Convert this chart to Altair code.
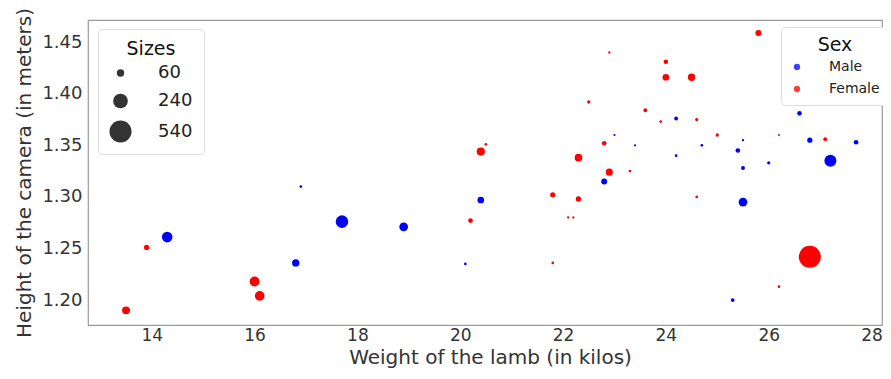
import altair as alt
import pandas as pd

weight = [13.5, 13.9, 14.3, 16.0, 16.1, 16.8, 16.9, 17.7, 18.9, 20.1,
          20.2, 20.4, 20.4, 20.5, 21.8, 21.8, 22.1, 22.2, 22.3, 22.3,
          22.5, 22.8, 22.8, 22.9, 22.9, 23.0, 23.3, 23.4, 23.6, 23.9,
          24.0, 24.0, 24.2, 24.2, 24.5, 24.6, 24.6, 24.7, 25.0, 25.3,
          25.4, 25.5, 25.5, 25.5, 25.8, 26.0, 26.2, 26.2, 26.6, 26.8,
          26.8, 27.1, 27.2, 27.7]
height = [1.190, 1.251, 1.261, 1.218, 1.204, 1.236, 1.310, 1.276, 1.271, 1.235,
          1.277, 1.297, 1.344, 1.351, 1.302, 1.236, 1.280, 1.280, 1.338, 1.298,
          1.392, 1.352, 1.315, 1.324, 1.440, 1.360, 1.325, 1.350, 1.384, 1.373,
          1.431, 1.416, 1.376, 1.340, 1.416, 1.375, 1.300, 1.350, 1.360, 1.200,
          1.345, 1.355, 1.328, 1.295, 1.459, 1.333, 1.360, 1.213, 1.381, 1.355,
          1.242, 1.356, 1.335, 1.353]
sex = ["Female", "Female", "Male", "Female", "Female", "Male", "Male", "Male", "Male", "Male",
       "Female", "Male", "Female", "Female", "Female", "Female", "Female", "Female", "Female", "Female",
       "Female", "Female", "Male", "Female", "Female", "Male", "Female", "Male", "Female", "Female",
       "Female", "Female", "Male", "Male", "Female", "Female", "Female", "Male", "Female", "Male",
       "Male", "Male", "Male", "Male", "Female", "Male", "Female", "Female", "Male", "Male",
       "Female", "Female", "Male", "Male"]
size = [70, 30, 125, 110, 105, 60, 8, 175, 85, 8,
        25, 50, 75, 8, 30, 8, 6, 6, 65, 32,
        12, 24, 40, 55, 6, 5, 8, 5, 16, 8,
        24, 50, 16, 8, 60, 12, 8, 8, 12, 16,
        24, 6, 18, 85, 40, 12, 5, 8, 24, 30,
        540, 16, 160, 24]

sex_levels = ["Male", "Female"]
sex_colors = ["#0000ff", "#ff0000"]
size_legend_values = [60, 240, 540]
x_ticks = [14, 16, 18, 20, 22, 24, 26, 28]
y_ticks = [1.20, 1.25, 1.30, 1.35, 1.40, 1.45]

df = pd.DataFrame({"Weight": weight, "Height": height, "Sex": sex, "Size": size})

FONT = "DejaVu Sans"

chart = alt.Chart(df).mark_circle(opacity=1).encode(
    x=alt.X("Weight:Q",
            scale=alt.Scale(domain=[12.76, 28.204], nice=False, zero=False),
            axis=alt.Axis(title="Weight of the lamb (in kilos)", values=x_ticks,
                          format="d", labelPadding=2, labelFontSize=17,
                          titlePadding=4, titleX=402)),
    y=alt.Y("Height:Q",
            scale=alt.Scale(domain=[1.1758, 1.4715], nice=False, zero=False),
            axis=alt.Axis(title="Height of the camera (in meters)", values=y_ticks,
                          format=".2f", labelPadding=6, titlePadding=7)),
    color=alt.Color("Sex:N",
                    scale=alt.Scale(domain=sex_levels, range=sex_colors),
                    legend=alt.Legend(title="Sex", orient="none", legendX=693, legendY=7,
                                      titleFontSize=19, labelFontSize=14,
                                      titleAnchor="middle", symbolSize=40,
                                      symbolOpacity=0.75, symbolType="circle",
                                      labelOffset=25, rowPadding=8, padding=9,
                                      fillColor="white", strokeColor="#dddddd",
                                      cornerRadius=4)),
    size=alt.Size("Size:Q",
                  scale=alt.Scale(domain=[0, 540], range=[0, 486], zero=True),
                  legend=alt.Legend(title="Sizes", orient="none", legendX=10, legendY=9,
                                    values=size_legend_values,
                                    titleFontSize=19, labelFontSize=18,
                                    titleAnchor="middle",
                                    symbolFillColor="#333333", symbolStrokeWidth=0,
                                    symbolType="circle",
                                    labelOffset=26, rowPadding=10, padding=11,
                                    fillColor="white", strokeColor="#dddddd",
                                    cornerRadius=4)),
).properties(
    width=794, height=305,
    autosize=alt.AutoSizeParams(type="none"),
    padding={"left": 80, "top": 12, "right": 1, "bottom": 46},
).configure_view(
    stroke="#999999", strokeWidth=1.2
).configure_axis(
    grid=False, domain=False, ticks=False,
    labelFont=FONT, titleFont=FONT, labelFontSize=18, titleFontSize=20,
    labelColor="#333333", titleColor="#333333", titleFontWeight="normal"
).configure_legend(
    titleFont=FONT, labelFont=FONT, titleFontWeight="normal",
    titleColor="#111111", labelColor="#222222"
)

chart.save("out.html", embed_options={"renderer": "svg", "actions": False})
